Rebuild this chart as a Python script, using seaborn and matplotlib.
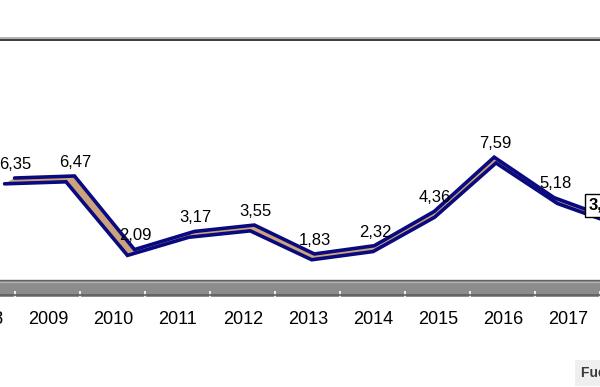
import numpy as np
import matplotlib
matplotlib.use("Agg")
import matplotlib.pyplot as plt
import seaborn as sns
from matplotlib.patches import Rectangle, Polygon
from matplotlib.lines import Line2D

# ---------------- data ----------------
years = ["2008", "2009", "2010", "2011", "2012", "2013", "2014", "2015", "2016", "2017", "2018"]
values = [6.35, 6.47, 2.09, 3.17, 3.55, 1.83, 2.32, 4.36, 7.59, 5.18, 3.87]
value_labels = ["6,35", "6,47", "2,09", "3,17", "3,55", "1,83", "2,32", "4,36", "7,59", "5,18", "3,87"]
source_text = "Fuente: INE"

# ---------------- style ----------------
NAVY = "#0a0a80"
TAN = "#cca37a"
sns.set_theme(style="white")
plt.rcParams["font.family"] = ["Liberation Sans", "DejaVu Sans"]

W, H = 600, 387
fig = plt.figure(figsize=(W / 100, H / 100), dpi=100)
ax_bottom_px, ax_top_px = 297, 40
ax_left_px, ax_right_px = -60, 660          # axes run past the picture edges
ax = fig.add_axes([ax_left_px / W, (H - ax_bottom_px) / H,
                   (ax_right_px - ax_left_px) / W, (ax_bottom_px - ax_top_px) / H])

# scales (pixels per data unit)
px_x = 65.0
px_y = 16.8
first_cat_px = -17
xlim = ((ax_left_px - first_cat_px) / px_x, (ax_right_px - first_cat_px) / px_x)
zero_px = 290.5
ylim = ((zero_px - ax_bottom_px) / px_y, (zero_px - ax_top_px) / px_y)

idx = np.arange(len(years))
vals = np.array(values)

# 3D perspective: the ribbon sits behind the category labels
vp, depth_scale = 6.04, 0.945
x_front = vp + (idx - vp) * depth_scale
xpix = first_cat_px + x_front * px_x
a_px = 0.024 * (420 - xpix)     # horizontal depth offset in pixels
b_px = 5.8                        # vertical depth offset in pixels
x_back = x_front + a_px / px_x
y_back = vals + b_px / px_y

# floor (3D base)
ax_h = ax_bottom_px - ax_top_px
floor_h = (ax_bottom_px - 280) / ax_h
ax.add_patch(Rectangle((0, 0), 1, floor_h, transform=ax.transAxes,
                       fc="#8c8c8c", ec="none", zorder=0.5))
ax.add_line(Line2D([0, 1], [floor_h, floor_h], transform=ax.transAxes,
                   color="#636363", lw=1.0, zorder=0.6))
ax.add_line(Line2D([0, 1], [floor_h - 1.6 / ax_h, floor_h - 1.6 / ax_h], transform=ax.transAxes,
                   color="#b2b2b2", lw=0.9, zorder=0.6))
ax.add_line(Line2D([0, 1], [1.6 / ax_h, 1.6 / ax_h], transform=ax.transAxes,
                   color="#5e5e5e", lw=1.2, zorder=0.6))

# ribbon faces
for i in range(len(idx) - 1):
    poly = [(x_front[i], vals[i]), (x_front[i + 1], vals[i + 1]),
            (x_back[i + 1], y_back[i + 1]), (x_back[i], y_back[i])]
    ax.add_patch(Polygon(poly, closed=True, fc=TAN, ec="none", zorder=3))

# ribbon edges
sns.lineplot(x=x_front, y=vals, sort=False, estimator=None, color=NAVY, lw=2.6,
             ax=ax, zorder=4, solid_joinstyle="miter")
sns.lineplot(x=x_back, y=y_back, sort=False, estimator=None, color=NAVY, lw=2.6,
             ax=ax, zorder=4, solid_joinstyle="miter")

ax.set_xlim(*xlim)
ax.set_ylim(*ylim)

# value labels (anchored on the back edge of the 3D ribbon)
for i in idx[:-1]:
    ax.annotate(value_labels[i], (x_back[i], vals[i]), xytext=(1, 19.5),
                textcoords="offset pixels", ha="center", va="center",
                fontsize=12, color="black", annotation_clip=False, zorder=6)
last = idx[-1]
ax.annotate(value_labels[last], (x_front[last], vals[last]), xytext=(-30, 20),
            textcoords="offset pixels", ha="left", va="center",
            fontsize=12, fontweight="bold", color="black", annotation_clip=False,
            bbox=dict(boxstyle="square,pad=0.25", fc="white", ec="black", lw=1.0),
            zorder=7)

# axes
ax.set_xticks(idx)
ax.set_xticklabels(years, fontsize=13, color="black")
ax.set_xticks(idx + 0.5, minor=True)
ax.tick_params(axis="x", which="major", length=0, pad=10)
ax.tick_params(axis="x", which="minor", direction="in", length=4, width=1.2,
               color="white", bottom=True)
ax.set_yticks([])
ax.set_xlim(*xlim)
ax.set_ylim(*ylim)
ax.grid(False)
for s in ["left", "right", "bottom"]:
    ax.spines[s].set_visible(False)
ax.spines["top"].set_color("#1a1a1a")
ax.spines["top"].set_linewidth(1.2)
fig.add_artist(Line2D([0, 1], [1 - 38 / H, 1 - 38 / H], transform=fig.transFigure,
                      color="#ababab", lw=1.3))
ax.set_xlabel("")
ax.set_ylabel("")
if ax.get_legend():
    ax.get_legend().remove()

fig.text(581 / W, 1 - 373 / H, source_text, fontsize=10, fontweight="bold",
         color="#3a3a3a", ha="left", va="center",
         bbox=dict(boxstyle="square,pad=0.4", fc="#efefef", ec="none"))

fig.savefig("out.png", dpi=100)
